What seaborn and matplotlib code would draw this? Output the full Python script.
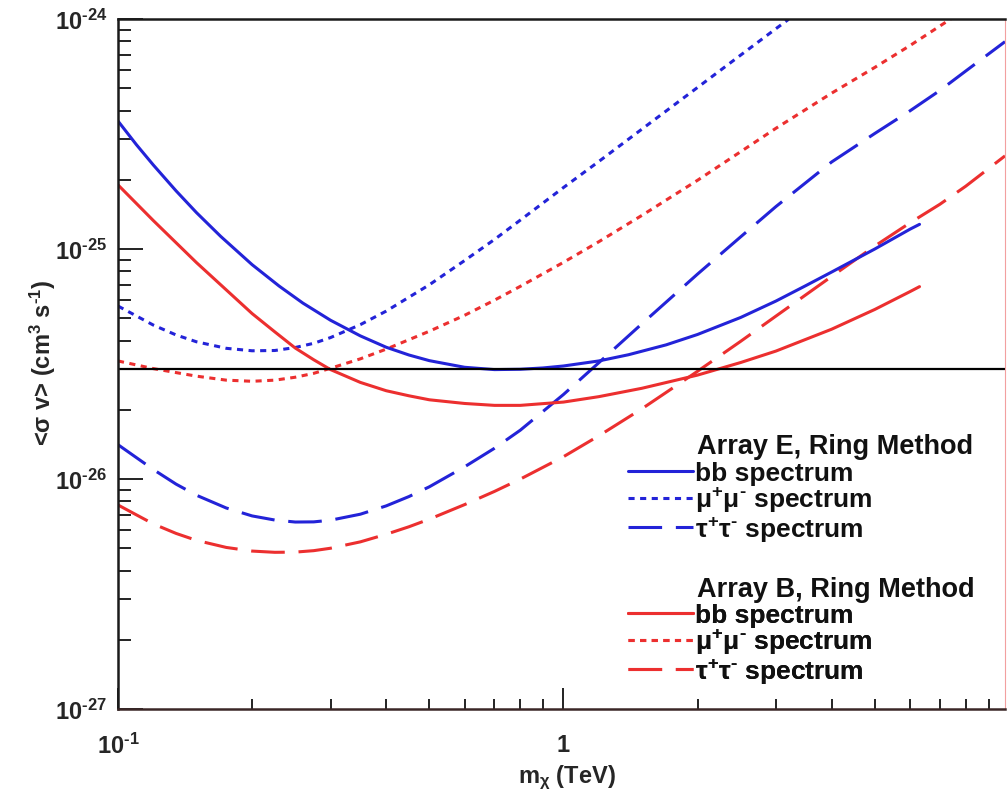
import matplotlib
matplotlib.use("Agg")
import numpy as np
import pandas as pd
import matplotlib.pyplot as plt
import seaborn as sns
from matplotlib.lines import Line2D
from matplotlib.ticker import FixedLocator, NullFormatter

# ── DATA ──────────────────────────────────────────────────
MASS_E_BB = [0.1, 0.11, 0.12, 0.135, 0.15, 0.17, 0.2, 0.23, 0.26, 0.3, 0.35,
             0.4, 0.45, 0.5, 0.6, 0.7, 0.8, 0.9, 1.0, 1.2, 1.4, 1.7, 2.0, 2.5,
             3.0, 3.5, 4.0, 5.0, 6.0, 6.3]
E_BB = [3.60e-25, 2.84e-25, 2.32e-25, 1.79e-25, 1.44e-25, 1.135e-25, 8.55e-26,
        6.90e-26, 5.82e-26, 4.90e-26, 4.19e-26, 3.74e-26, 3.46e-26, 3.27e-26,
        3.06e-26, 2.99e-26, 3.00e-26, 3.04e-26, 3.10e-26, 3.26e-26, 3.47e-26,
        3.83e-26, 4.25e-26, 5.04e-26, 5.94e-26, 6.93e-26, 7.94e-26, 1.00e-25,
        1.22e-25, 1.28e-25]

MASS_B_BB = [0.1, 0.12, 0.15, 0.2, 0.225, 0.25, 0.275, 0.3, 0.35, 0.4, 0.45,
             0.5, 0.6, 0.7, 0.8, 1.0, 1.2, 1.5, 2.0, 2.5, 3.0, 4.0, 5.0, 6.0,
             6.3]
B_BB = [1.90e-25, 1.33e-25, 8.73e-26, 5.24e-26, 4.36e-26, 3.71e-26, 3.30e-26,
        2.99e-26, 2.63e-26, 2.42e-26, 2.30e-26, 2.21e-26, 2.13e-26, 2.09e-26,
        2.09e-26, 2.16e-26, 2.28e-26, 2.48e-26, 2.83e-26, 3.21e-26, 3.60e-26,
        4.48e-26, 5.46e-26, 6.53e-26, 6.86e-26]

MASS_E_MU = [0.1, 0.12, 0.135, 0.15, 0.175, 0.2, 0.225, 0.25, 0.275, 0.3,
             0.35, 0.4, 0.5, 0.6, 0.7, 0.8, 1.0, 1.2, 1.5, 2.0, 2.5, 3.0, 3.2]
E_MU = [5.65e-26, 4.67e-26, 4.23e-26, 3.95e-26, 3.70e-26, 3.61e-26, 3.62e-26,
        3.73e-26, 3.89e-26, 4.12e-26, 4.69e-26, 5.37e-26, 6.99e-26, 8.91e-26,
        1.10e-25, 1.335e-25, 1.85e-25, 2.40e-25, 3.32e-25, 5.04e-25, 6.97e-25,
        9.08e-25, 9.96e-25]

MASS_B_MU = [0.1, 0.12, 0.15, 0.175, 0.2, 0.225, 0.25, 0.275, 0.3, 0.35, 0.4,
             0.5, 0.6, 0.7, 0.8, 1.0, 1.2, 1.5, 2.0, 2.5, 3.0, 4.0, 5.0, 6.0,
             7.4]
B_MU = [3.26e-26, 3.02e-26, 2.80e-26, 2.69e-26, 2.66e-26, 2.69e-26, 2.77e-26,
        2.88e-26, 3.03e-26, 3.33e-26, 3.67e-26, 4.39e-26, 5.15e-26, 5.99e-26,
        6.88e-26, 8.75e-26, 1.075e-25, 1.40e-25, 1.99e-25, 2.65e-25, 3.35e-25,
        4.76e-25, 6.16e-25, 7.67e-25, 1.00e-24]

MASS_TAU = [0.1, 0.12, 0.135, 0.15, 0.175, 0.2, 0.225, 0.25, 0.275, 0.3, 0.35,
            0.4, 0.45, 0.5, 0.6, 0.7, 0.8, 1.0, 1.2, 1.5, 2.0, 2.5, 3.0, 4.0,
            5.0, 6.0, 7.0, 8.0, 9.8]
E_TAU = [1.41e-26, 1.10e-26, 9.50e-27, 8.50e-27, 7.48e-27, 6.91e-27, 6.63e-27,
         6.50e-27, 6.51e-27, 6.62e-27, 7.03e-27, 7.64e-27, 8.39e-27, 9.25e-27,
         1.13e-26, 1.36e-26, 1.63e-26, 2.33e-26, 3.20e-26, 4.73e-26, 7.78e-26,
         1.13e-25, 1.53e-25, 2.39e-25, 3.18e-25, 3.99e-25, 4.89e-25, 5.94e-25,
         7.97e-25]
B_TAU = [7.71e-27, 6.38e-27, 5.80e-27, 5.41e-27, 5.04e-27, 4.86e-27, 4.80e-27,
         4.81e-27, 4.88e-27, 5.00e-27, 5.33e-27, 5.75e-27, 6.20e-27, 6.69e-27,
         7.74e-27, 8.83e-27, 9.99e-27, 1.25e-26, 1.54e-26, 2.02e-26, 2.94e-26,
         3.97e-26, 5.11e-26, 7.60e-26, 1.03e-25, 1.30e-25, 1.565e-25,
         1.875e-25, 2.54e-25]

THERMAL = 3.0e-26

X_TICKS = [0.1, 1.0]
X_TICK_LABELS = [r"$\mathbf{10^{\text{-}1}}$", r"$\mathbf{1}$"]
Y_TICKS = [1e-27, 1e-26, 1e-25, 1e-24]
Y_TICK_LABELS = [r"$\mathbf{10^{\text{-}27}}$", r"$\mathbf{10^{\text{-}26}}$",
                 r"$\mathbf{10^{\text{-}25}}$", r"$\mathbf{10^{\text{-}24}}$"]

TITLE_E = "Array E, Ring Method"
TITLE_B = "Array B, Ring Method"
ENTRY_LABELS = ["bb spectrum", r"$\mu^{+}\mu^{\text{-}}$ spectrum",
                r"$\tau^{+}\tau^{\text{-}}$ spectrum"]

BLUE = "#2323d8"
RED = "#ec2f2f"
LW = 2.2
SOLID = "-"
DOTTED = (0, (2.0, 1.8))
DASHED = (0, (11, 4.5))

# ── STYLE ─────────────────────────────────────────────────
sns.set_style("white")
plt.rcParams["font.family"] = ["Liberation Sans", "DejaVu Sans"]
plt.rcParams["font.weight"] = "bold"
plt.rcParams["mathtext.fontset"] = "custom"
plt.rcParams["mathtext.rm"] = "Liberation Sans:bold"
plt.rcParams["mathtext.it"] = "Liberation Sans:bold"
plt.rcParams["mathtext.bf"] = "Liberation Sans:bold"
plt.rcParams["mathtext.default"] = "bf"

fig = plt.figure(figsize=(10.07, 8.03), dpi=100)
ax = fig.add_axes([118 / 1007, 1 - 710 / 803, 887 / 1007, 690 / 803])

curves = [
    (MASS_E_MU, E_MU, BLUE, DOTTED),
    (MASS_B_MU, B_MU, RED, DOTTED),
    (MASS_TAU, E_TAU, BLUE, DASHED),
    (MASS_TAU, B_TAU, RED, DASHED),
    (MASS_E_BB, E_BB, BLUE, SOLID),
    (MASS_B_BB, B_BB, RED, SOLID),
]
for m, sv, col, ls in curves:
    df = pd.DataFrame({"m": m, "sv": sv})
    sns.lineplot(data=df, x="m", y="sv", color=col, linewidth=LW,
                 linestyle=ls, ax=ax, sort=False, legend=False)

ax.axhline(THERMAL, color="black", linewidth=1.6)

ax.set_xscale("log")
ax.set_yscale("log")
ax.set_xlim(0.1, 9.8)
ax.set_ylim(1e-27, 1e-24)

ax.xaxis.set_major_locator(FixedLocator(X_TICKS))
ax.set_xticklabels(X_TICK_LABELS)
x_minor = [k * 0.1 for k in range(2, 10)] + list(range(2, 10))
ax.xaxis.set_minor_locator(FixedLocator(x_minor))
ax.xaxis.set_minor_formatter(NullFormatter())

ax.yaxis.set_major_locator(FixedLocator(Y_TICKS))
ax.set_yticklabels(Y_TICK_LABELS)
y_minor = [k * 10.0 ** e for e in (-27, -26, -25) for k in range(2, 10)]
ax.yaxis.set_minor_locator(FixedLocator(y_minor))
ax.yaxis.set_minor_formatter(NullFormatter())

ax.tick_params(axis="both", which="both", direction="in", width=1.4,
               color="#222222", bottom=True, left=True, top=False,
               right=False)
ax.tick_params(axis="x", which="major", length=15, pad=17, labelsize=17)
ax.tick_params(axis="x", which="minor", length=7.5)
ax.tick_params(axis="y", which="major", length=18, pad=8, labelsize=17)
ax.tick_params(axis="y", which="minor", length=9)

for side in ["left", "bottom", "top"]:
    ax.spines[side].set_linewidth(1.8)
    ax.spines[side].set_color("#1a1a1a")
ax.spines["bottom"].set_color("#3a2626")
ax.spines["right"].set_linewidth(0.8)
ax.spines["right"].set_color("#f2a0a0")

ax.set_xlabel(r"m$_{\chi}$ (TeV)", fontsize=17, fontweight="bold")
ax.set_ylabel(r"<$\sigma$ v> (cm$^{3}$ s$^{\text{-}1}$)", fontsize=17,
              fontweight="bold")
ax.xaxis.set_label_coords(0.506, -0.078)
ax.yaxis.set_label_coords(-0.068, 0.503)

# ── LEGENDS ───────────────────────────────────────────────
styles = [SOLID, DOTTED, DASHED]
for title, col, y_title, y_leg in [(TITLE_E, BLUE, 0.381, 0.3594),
                                   (TITLE_B, RED, 0.1735, 0.1536)]:
    ax.text(0.653, y_title, title, transform=ax.transAxes, fontsize=19.5,
            fontweight="bold", ha="left", va="center", color="#111111")
    handles = [Line2D([], [], color=col, lw=LW, linestyle=ls) for ls in styles]
    leg = ax.legend(handles, ENTRY_LABELS, loc="upper left",
                    bbox_to_anchor=(0.575, y_leg), frameon=False,
                    handlelength=2.45, handletextpad=0.08, labelspacing=0.0,
                    borderpad=0, borderaxespad=0,
                    prop={"size": 19, "weight": "bold"})
    for t in leg.get_texts():
        t.set_color("#111111")
    ax.add_artist(leg)

fig.savefig("out.png", dpi=100)
